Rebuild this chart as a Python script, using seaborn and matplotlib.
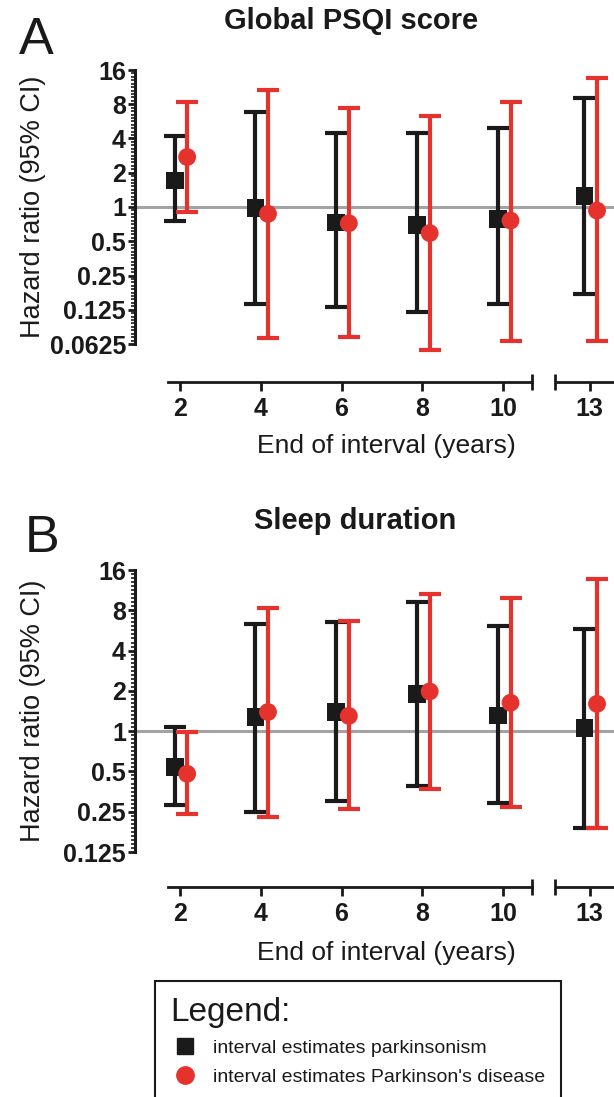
import matplotlib
matplotlib.use("Agg")
import matplotlib.pyplot as plt
import numpy as np
import pandas as pd
import seaborn as sns
from matplotlib.lines import Line2D
from matplotlib.ticker import NullFormatter
from matplotlib.transforms import offset_copy

years = [2, 4, 6, 8, 10, 13]
outcomes = ["parkinsonism", "Parkinson's disease"]

# A: global PSQI score
psqi_park_hr = [1.71, 0.98, 0.73, 0.70, 0.79, 1.24]
psqi_park_lo = [0.76, 0.141, 0.132, 0.119, 0.141, 0.171]
psqi_park_hi = [4.17, 6.9, 4.46, 4.46, 4.9, 9.1]
psqi_pdis_hr = [2.75, 0.87, 0.72, 0.59, 0.76, 0.93]
psqi_pdis_lo = [0.91, 0.071, 0.072, 0.055, 0.067, 0.066]
psqi_pdis_hi = [8.3, 10.7, 7.47, 6.26, 8.45, 13.7]

# B: sleep duration
sleep_park_hr = [0.54, 1.28, 1.39, 1.90, 1.31, 1.05]
sleep_park_lo = [0.28, 0.25, 0.30, 0.39, 0.29, 0.19]
sleep_park_hi = [1.08, 6.3, 6.56, 9.2, 6.1, 5.75]
sleep_pdis_hr = [0.48, 1.39, 1.30, 1.98, 1.63, 1.60]
sleep_pdis_lo = [0.24, 0.23, 0.26, 0.37, 0.27, 0.19]
sleep_pdis_hi = [0.99, 8.3, 6.63, 10.6, 9.9, 13.7]

BLACK = "#1a1a1a"
RED = "#e5322d"
GREY = "#a3a3a3"
DODGE = {"parkinsonism": -0.13, "Parkinson's disease": 0.18}

# broken x axis: squeeze the empty stretch between ~10.7 and ~12.1 years
BREAK_IN = [-100, 10.72, 12.13, 100]
BREAK_OUT = [-100, 10.72, 11.27, 99.14]


def squeeze(x):
    return np.interp(x, BREAK_IN, BREAK_OUT)


def unsqueeze(x):
    return np.interp(x, BREAK_OUT, BREAK_IN)


def long_table(park, pdis):
    rows = []
    for outcome, (hr, lo, hi) in zip(outcomes, [park, pdis]):
        for yr, h, l, u in zip(years, hr, lo, hi):
            rows.append({"year": yr, "outcome": outcome, "hr": h, "lo": l, "hi": u})
    df = pd.DataFrame(rows)
    df["x"] = df["year"] + df["outcome"].map(DODGE)
    return df


def draw_panel(ax, df, ymin, drop, xlabel_y):
    ax.set_xscale("function", functions=(squeeze, unsqueeze))
    ax.set_yscale("log", base=2)
    ax.axhline(1, color=GREY, lw=2.2, zorder=1)
    for outcome, colour in zip(outcomes, [BLACK, RED]):
        sub = df[df["outcome"] == outcome]
        eb = ax.errorbar(sub["x"], sub["hr"],
                         yerr=[sub["hr"] - sub["lo"], sub["hi"] - sub["hr"]],
                         fmt="none", ecolor=colour, elinewidth=3, capsize=8,
                         capthick=3, zorder=2)
        for art in eb.get_children():
            art.set_clip_on(False)
    sns.scatterplot(data=df, x="x", y="hr", hue="outcome", style="outcome",
                    hue_order=outcomes, style_order=outcomes,
                    palette=[BLACK, RED], markers=["s", "o"], s=165,
                    linewidth=0, legend=False, ax=ax, zorder=3, clip_on=False)

    # spines first: moving a spine resets the tick objects
    sns.despine(ax=ax)
    ax.spines["left"].set_linewidth(2.2)
    ax.spines["bottom"].set_linewidth(2)
    ax.spines["bottom"].set_position(("outward", drop))
    ax.spines["bottom"].set_bounds(1.7, 10.72)
    tail = offset_copy(ax.get_xaxis_transform(), fig=ax.figure, y=-drop, units="points")
    ax.add_line(Line2D([12.13, 13.6], [0, 0], transform=tail, color=BLACK,
                       lw=2, clip_on=False, solid_capstyle="butt"))
    ax.set_xlim(0.89, 13.6)
    ax.set_ylim(ymin, 16)

    major = 2.0 ** np.arange(np.log2(ymin), 5)
    ax.set_yticks(major, [f"{v:g}" for v in major], fontweight="bold", fontsize=18)
    exps = np.arange(int(round(np.log2(ymin) * 10)), 41)
    ax.set_yticks(2.0 ** (exps[exps % 10 != 0] / 10), minor=True)
    ax.yaxis.set_minor_formatter(NullFormatter())
    ax.set_xticks(years, [str(y) for y in years], fontweight="bold", fontsize=18)
    ax.set_xticks([10.72, 12.13], minor=True)
    ax.xaxis.set_minor_formatter(NullFormatter())

    ax.tick_params(axis="y", which="major", length=5, width=2, pad=1.5)
    ax.tick_params(axis="y", which="minor", length=3, width=1.2)
    ax.tick_params(axis="x", which="major", length=6.5, width=2, pad=4)
    ax.tick_params(axis="x", which="minor", length=11, width=2, direction="inout")

    ax.set_xlabel("End of interval (years)", fontsize=19)
    ax.set_ylabel("Hazard ratio (95% CI)", fontsize=19.5)
    ax.xaxis.set_label_coords(0.524, xlabel_y)
    ax.yaxis.set_label_coords(-0.186, 0.5)


sns.set_style("ticks")
plt.rcParams["font.family"] = ["Liberation Sans", "DejaVu Sans"]
plt.rcParams.update({"axes.edgecolor": BLACK, "xtick.color": BLACK,
                     "ytick.color": BLACK, "text.color": BLACK,
                     "axes.labelcolor": BLACK})

W, H = 614, 1097
fig = plt.figure(figsize=(W / 100, H / 100), dpi=100)
ax_a = fig.add_axes([135 / W, 1 - 344 / H, 479 / W, 274 / H])
ax_b = fig.add_axes([135 / W, 1 - 852 / H, 479 / W, 282 / H])

draw_panel(ax_a, long_table((psqi_park_hr, psqi_park_lo, psqi_park_hi),
                            (psqi_pdis_hr, psqi_pdis_lo, psqi_pdis_hi)),
           0.0625, 27.4, -0.33)
draw_panel(ax_b, long_table((sleep_park_hr, sleep_park_lo, sleep_park_hi),
                            (sleep_pdis_hr, sleep_pdis_lo, sleep_pdis_hi)),
           0.125, 25.2, -0.315)

fig.text(351 / W, 1 - 21 / H, "Global PSQI score", fontsize=21,
         fontweight="bold", ha="center", va="center")
fig.text(355 / W, 1 - 521 / H, "Sleep duration", fontsize=21,
         fontweight="bold", ha="center", va="center")
fig.text(36 / W, 1 - 40 / H, "A", fontsize=37.5, ha="center", va="center")
fig.text(42 / W, 1 - 538 / H, "B", fontsize=37.5, ha="center", va="center")

handles = [Line2D([], [], ls="", marker="s", ms=11, color=BLACK),
           Line2D([], [], ls="", marker="o", ms=12.5, color=RED)]
leg = fig.legend(handles, [f"interval estimates {o}" for o in outcomes],
                 loc="upper left", bbox_to_anchor=(155 / W, 1 - 981 / H),
                 title="Legend:", title_fontsize=24, fontsize=14,
                 alignment="left", frameon=True, fancybox=False,
                 edgecolor=BLACK, framealpha=1, borderpad=0.8,
                 handlelength=1.5, handletextpad=0.7, labelspacing=0.6,
                 borderaxespad=0)
leg.get_frame().set_linewidth(1.5)

fig.savefig("out.png", dpi=100)
